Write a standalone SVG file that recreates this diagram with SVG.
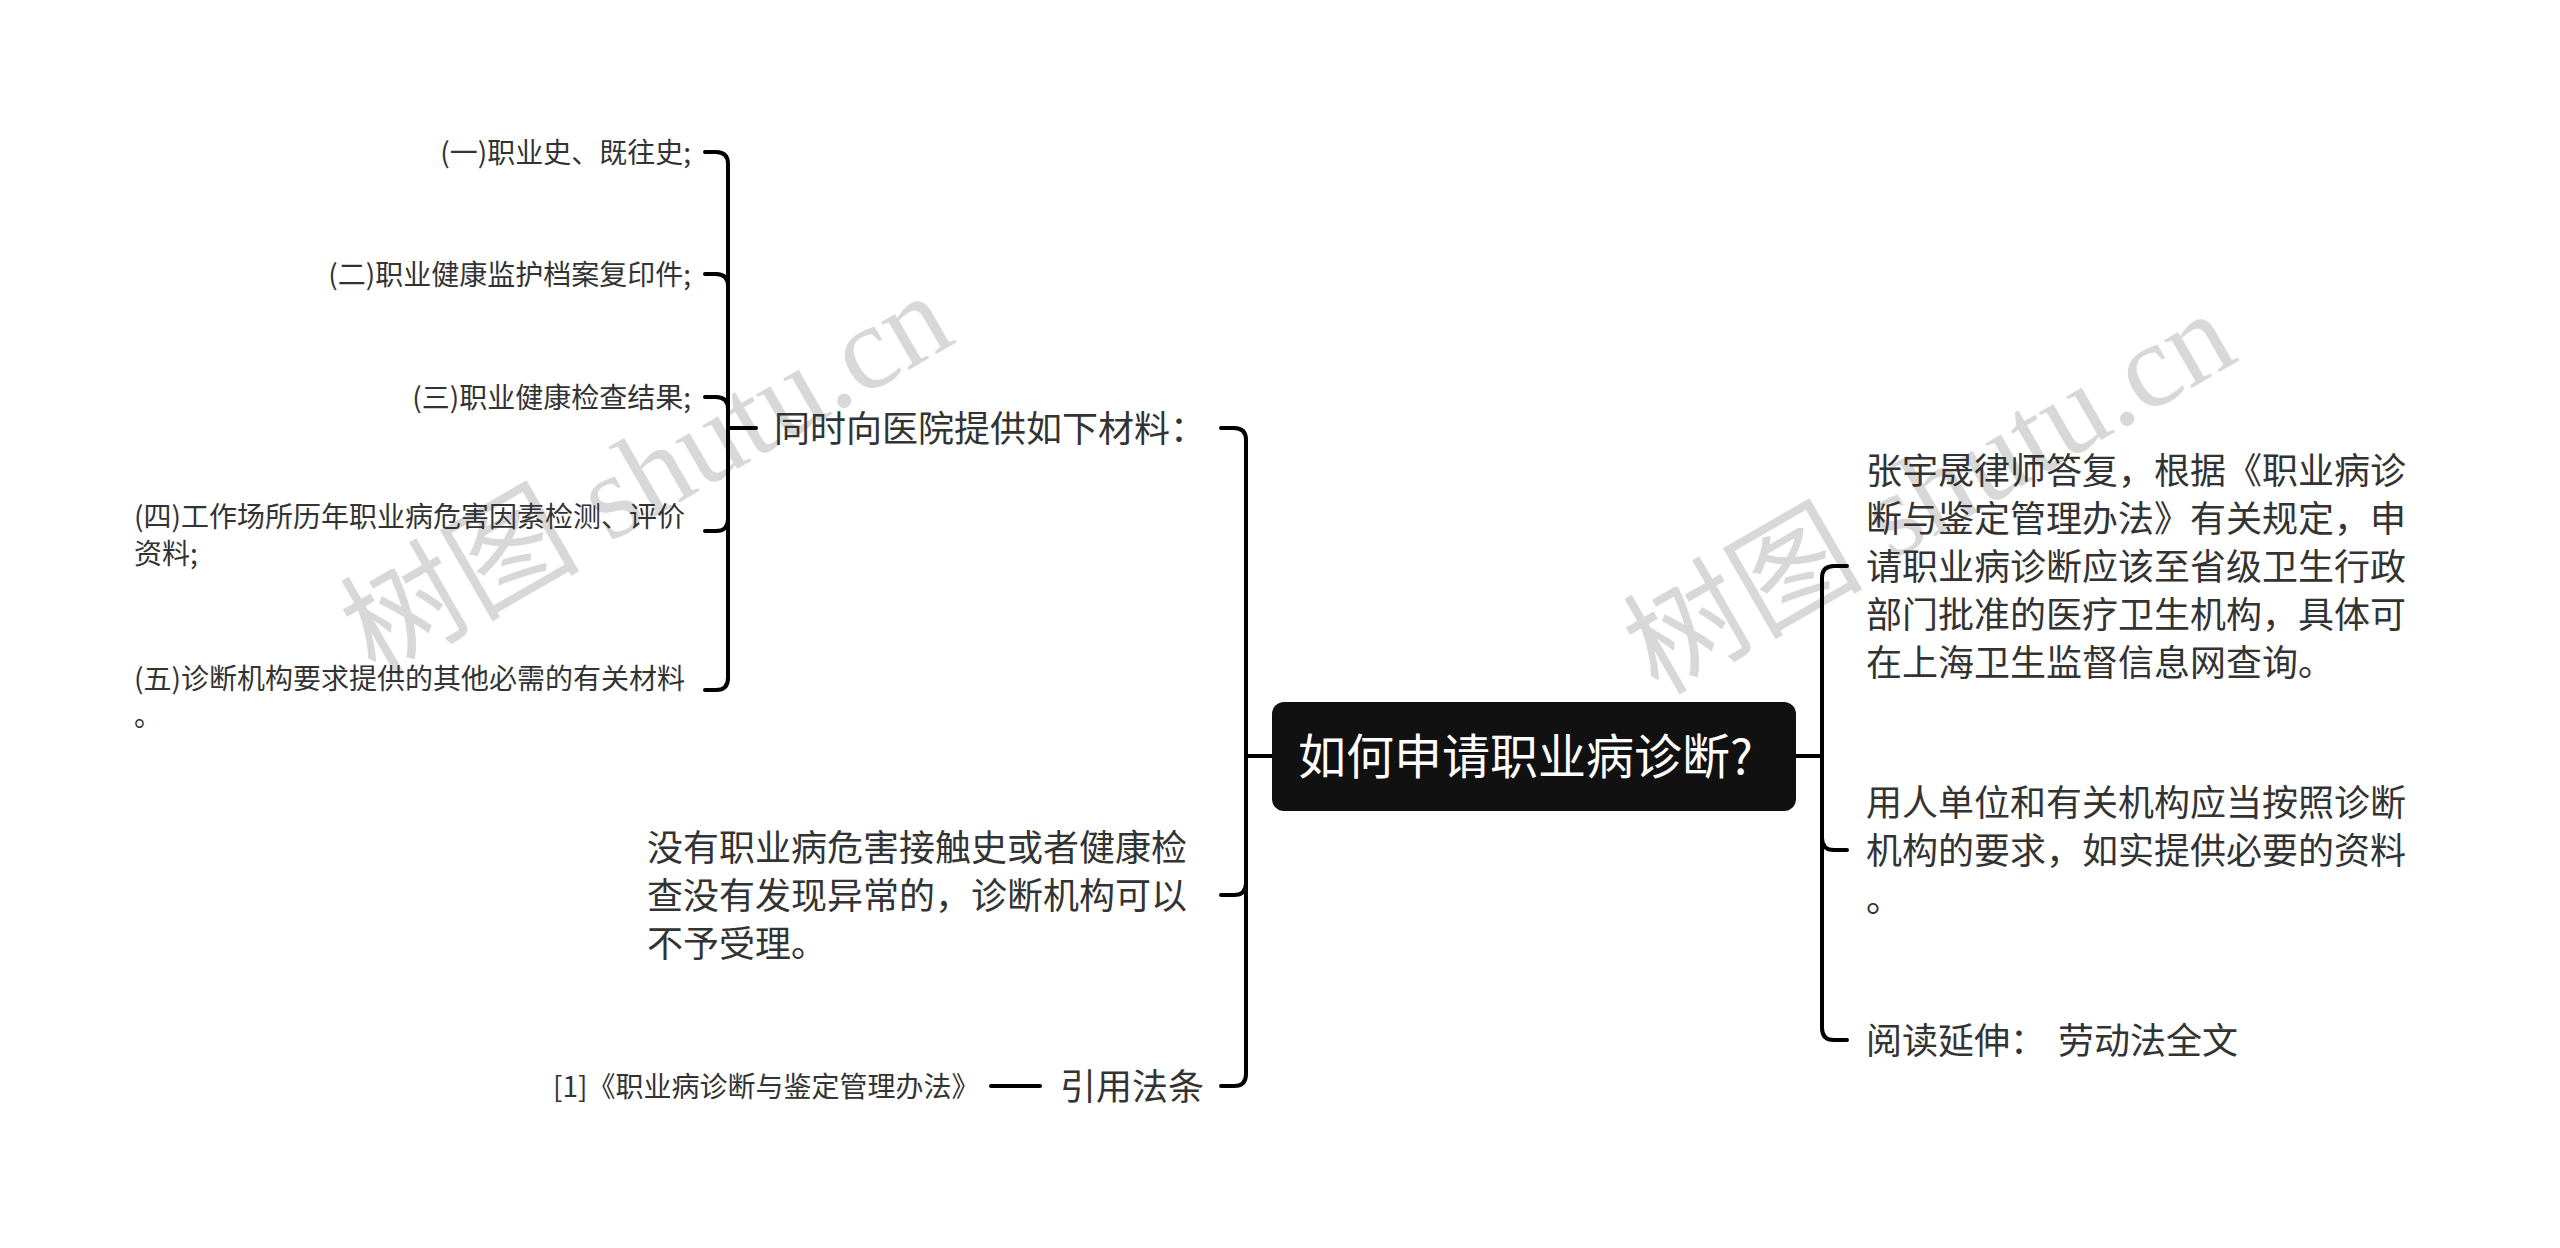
<svg xmlns="http://www.w3.org/2000/svg" width="2560" height="1248" viewBox="0 0 2560 1248">
<style>
.t{font-family:"Noto Sans CJK SC","Noto Sans",sans-serif;fill:#333333}
.m{font-size:36px}
.s{font-size:28px}
.r{font-size:48px;fill:#ffffff}
.wm{font-family:"Liberation Serif","Noto Sans CJK SC",serif;font-size:120px;fill:#d8d8d8}
.c{fill:none;stroke:#000000;stroke-width:4;stroke-linecap:round;stroke-linejoin:round}
</style>
<rect width="2560" height="1248" fill="#ffffff"/>
<g id="watermarks">
<text class="wm" transform="translate(375,678) rotate(-30)">树图 shutu.cn</text>
<text class="wm" transform="translate(1658,696) rotate(-30)">树图 shutu.cn</text>
</g>
<g id="connectors">
<path class="c" d="M1272,756 H1246"/>
<path class="c" d="M1246,756 V440 Q1246,428 1234,428 H1221"/>
<path class="c" d="M1246,756 V883 Q1246,895 1234,895 H1221"/>
<path class="c" d="M1246,756 V1074 Q1246,1086 1234,1086 H1221"/>
<path class="c" d="M1796,756 H1822"/>
<path class="c" d="M1822,756 V578 Q1822,566 1834,566 H1847"/>
<path class="c" d="M1822,756 V838 Q1822,850 1834,850 H1847"/>
<path class="c" d="M1822,756 V1028 Q1822,1040 1834,1040 H1847"/>
<path class="c" d="M756,428 H728"/>
<path class="c" d="M728,428 V164 Q728,152 716,152 H705"/>
<path class="c" d="M728,428 V286 Q728,274 716,274 H705"/>
<path class="c" d="M728,428 V409 Q728,397 716,397 H705"/>
<path class="c" d="M728,428 V519 Q728,531 716,531 H705"/>
<path class="c" d="M728,428 V678 Q728,690 716,690 H705"/>
<path class="c" d="M1040,1086 H991"/>
</g>
<g id="root">
<rect x="1272" y="702" width="524" height="109" rx="12" fill="#111111"/>
<text class="t r" x="1298" y="774">如何申请职业病诊断?</text>
</g>
<g id="n-materials">
<text class="t m" x="774" y="442">同时向医院提供如下材料：</text>
</g>
<g id="n-item1"><text class="t s" x="691" y="163" text-anchor="end">(一)职业史、既往史;</text></g>
<g id="n-item2"><text class="t s" x="691" y="285" text-anchor="end">(二)职业健康监护档案复印件;</text></g>
<g id="n-item3"><text class="t s" x="691" y="408" text-anchor="end">(三)职业健康检查结果;</text></g>
<g id="n-item4"><text class="t s" x="134" y="527">(四)工作场所历年职业病危害因素检测、评价<tspan x="134" y="564">资料;</tspan></text></g>
<g id="n-item5"><text class="t s" x="134" y="689">(五)诊断机构要求提供的其他必需的有关材料<tspan x="134" y="726">。</tspan></text></g>
<g id="n-noaccept">
<text class="t m" x="647" y="861">没有职业病危害接触史或者健康检<tspan x="647" y="909">查没有发现异常的，诊断机构可以</tspan><tspan x="647" y="957">不予受理。</tspan></text>
</g>
<g id="n-law">
<text class="t m" x="1060" y="1100">引用法条</text>
</g>
<g id="n-citation">
<text class="t s" x="553" y="1097">[1]《职业病诊断与鉴定管理办法》</text>
</g>
<g id="n-answer">
<text class="t m" x="1866" y="484">张宇晟律师答复，根据《职业病诊<tspan x="1866" y="532">断与鉴定管理办法》有关规定，申</tspan><tspan x="1866" y="580">请职业病诊断应该至省级卫生行政</tspan><tspan x="1866" y="628">部门批准的医疗卫生机构，具体可</tspan><tspan x="1866" y="676">在上海卫生监督信息网查询。</tspan></text>
</g>
<g id="n-employer">
<text class="t m" x="1866" y="816">用人单位和有关机构应当按照诊断<tspan x="1866" y="864">机构的要求，如实提供必要的资料</tspan><tspan x="1866" y="912">。</tspan></text>
</g>
<g id="n-reading">
<text class="t m" x="1866" y="1054">阅读延伸：<tspan x="2058">劳动法全文</tspan></text>
</g>
</svg>
